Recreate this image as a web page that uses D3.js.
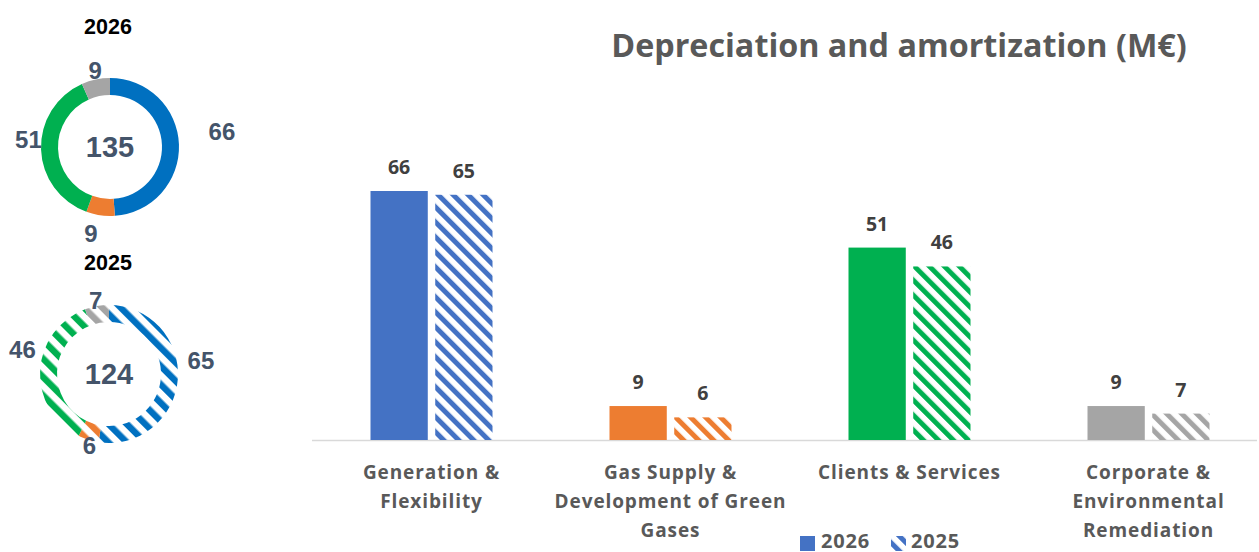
<!DOCTYPE html>
<html><head><meta charset="utf-8">
<script src="https://cdn.jsdelivr.net/npm/d3@7"></script>
<style>body{margin:0;background:#fff}svg{display:block}</style>
</head><body>
<svg id="c" width="1259" height="552"></svg>
<script>
const categories = [["Generation &","Flexibility"],["Gas Supply &","Development of Green","Gases"],["Clients & Services"],["Corporate &","Environmental","Remediation"]];
const values2026 = [66, 9, 51, 9];
const values2025 = [65, 6, 46, 7];
const years = ["2026", "2025"];
const total2026 = 135;
const total2025 = 124;
const barColors = ["#4472C4", "#ED7D31", "#00B050", "#A5A5A5"];
const donutColors = ["#0070C0", "#ED7D31", "#00B050", "#A5A5A5"];
const title = "Depreciation and amortization (M€)";
// label placement tweaks for the donut labels (angle shift in degrees, radius)
const labelTweak2026 = [[-6, 113], [4.5, 88], [7.6, 82], [1, 78]];
const labelTweak2025 = [[-13, 93], [-2, 74], [13, 90], [0, 75]];

const FONT = "Open Sans";
const svg = d3.select("#c");
const defs = svg.append("defs");
function stripe(id, color, period, w) {
  const p = defs.append("pattern").attr("id", id).attr("patternUnits", "userSpaceOnUse")
    .attr("width", period).attr("height", period).attr("patternTransform", "rotate(-45)");
  p.append("rect").attr("x", 0).attr("width", w).attr("height", period).attr("fill", color);
}
barColors.forEach((c, i) => stripe("bh" + i, c, 10.6, 5));
donutColors.forEach((c, i) => stripe("dh" + i, c, 13, 6.5));

// Title
svg.append("text").attr("x", 899).attr("y", 57).attr("text-anchor", "middle")
  .attr("font-family", FONT).attr("font-weight", 700).attr("font-size", 32.3)
  .attr("fill", "#595959").text(title);

// Bar chart
const x0 = d3.scaleBand().domain(d3.range(categories.length)).range([312, 1268]).paddingInner(0);
const x1 = d3.scaleBand().domain(years).range([0, 122]).paddingInner(0.115);
const y = d3.scaleLinear().domain([0, 66]).range([440, 191]);
const innerOffset = (x0.bandwidth() - 122) / 2;

svg.append("line").attr("x1", 312).attr("x2", 1257).attr("y1", 440.5).attr("y2", 440.5)
  .attr("stroke", "#D9D9D9").attr("stroke-width", 1.5);

const g = svg.append("g");
categories.forEach((cat, i) => {
  const bx = x0(i) + innerOffset;
  [[values2026[i], "2026", barColors[i]], [values2025[i], "2025", `url(#bh${i})`]].forEach(([v, yr, fill]) => {
    g.append("rect").attr("x", bx + x1(yr)).attr("width", x1.bandwidth())
      .attr("y", y(v)).attr("height", y(0) - y(v)).attr("fill", fill);
    g.append("text").attr("x", bx + x1(yr) + x1.bandwidth() / 2).attr("y", y(v) - 17)
      .attr("text-anchor", "middle").attr("font-family", FONT).attr("font-weight", 700)
      .attr("font-size", 19.5).attr("fill", "#404040").text(v);
  });
  const t = g.append("text").attr("text-anchor", "middle").attr("font-family", FONT)
    .attr("font-weight", 700).attr("font-size", 19).attr("letter-spacing", 0.9).attr("fill", "#595959");
  cat.forEach((line, k) => t.append("tspan").attr("x", x0(i) + x0.bandwidth() / 2).attr("y", 479 + k * 29).text(line));
});

// Legend
const leg = svg.append("g").attr("font-family", FONT).attr("font-weight", 700).attr("font-size", 20).attr("letter-spacing", 0.8).attr("fill", "#595959");
leg.append("rect").attr("x", 800).attr("y", 536).attr("width", 15).attr("height", 15).attr("fill", barColors[0]);
leg.append("text").attr("x", 821).attr("y", 548).text(years[0]);
leg.append("rect").attr("x", 891).attr("y", 536).attr("width", 15).attr("height", 15).attr("fill", "url(#bh0)");
leg.append("text").attr("x", 911).attr("y", 548).text(years[1]);

// Donuts
function donut(cx, cy, vals, total, yearLabel, titleY, hatched, tweak) {
  const gg = svg.append("g").attr("transform", `translate(${cx},${cy})`);
  const pie = d3.pie().sort(null).value(d => d)(vals);
  const arc = d3.arc().innerRadius(52).outerRadius(69);
  gg.selectAll("path").data(pie).join("path").attr("d", arc)
    .attr("fill", (d, i) => hatched ? `url(#dh${i})` : donutColors[i]);
  gg.append("text").attr("y", 10).attr("text-anchor", "middle").attr("font-family", "Liberation Sans")
    .attr("font-weight", 700).attr("font-size", 29).attr("fill", "#44546A").text(total);
  pie.forEach((d, i) => {
    const a = (d.startAngle + d.endAngle) / 2 + tweak[i][0] * Math.PI / 180;
    const r = tweak[i][1];
    gg.append("text").attr("x", Math.sin(a) * r).attr("y", -Math.cos(a) * r).attr("dy", "0.36em")
      .attr("text-anchor", "middle").attr("font-family", "Liberation Sans").attr("font-weight", 700)
      .attr("font-size", 24).attr("fill", "#44546A").text(d.data);
  });
  svg.append("text").attr("x", 108).attr("y", titleY).attr("text-anchor", "middle")
    .attr("font-family", "Liberation Sans").attr("font-weight", 700).attr("font-size", 21.5)
    .attr("fill", "#000").text(yearLabel);
}
donut(110, 147, values2026, total2026, years[0], 34, false, labelTweak2026);
donut(109, 374, values2025, total2025, years[1], 270, true, labelTweak2025);
</script>
</body></html>
